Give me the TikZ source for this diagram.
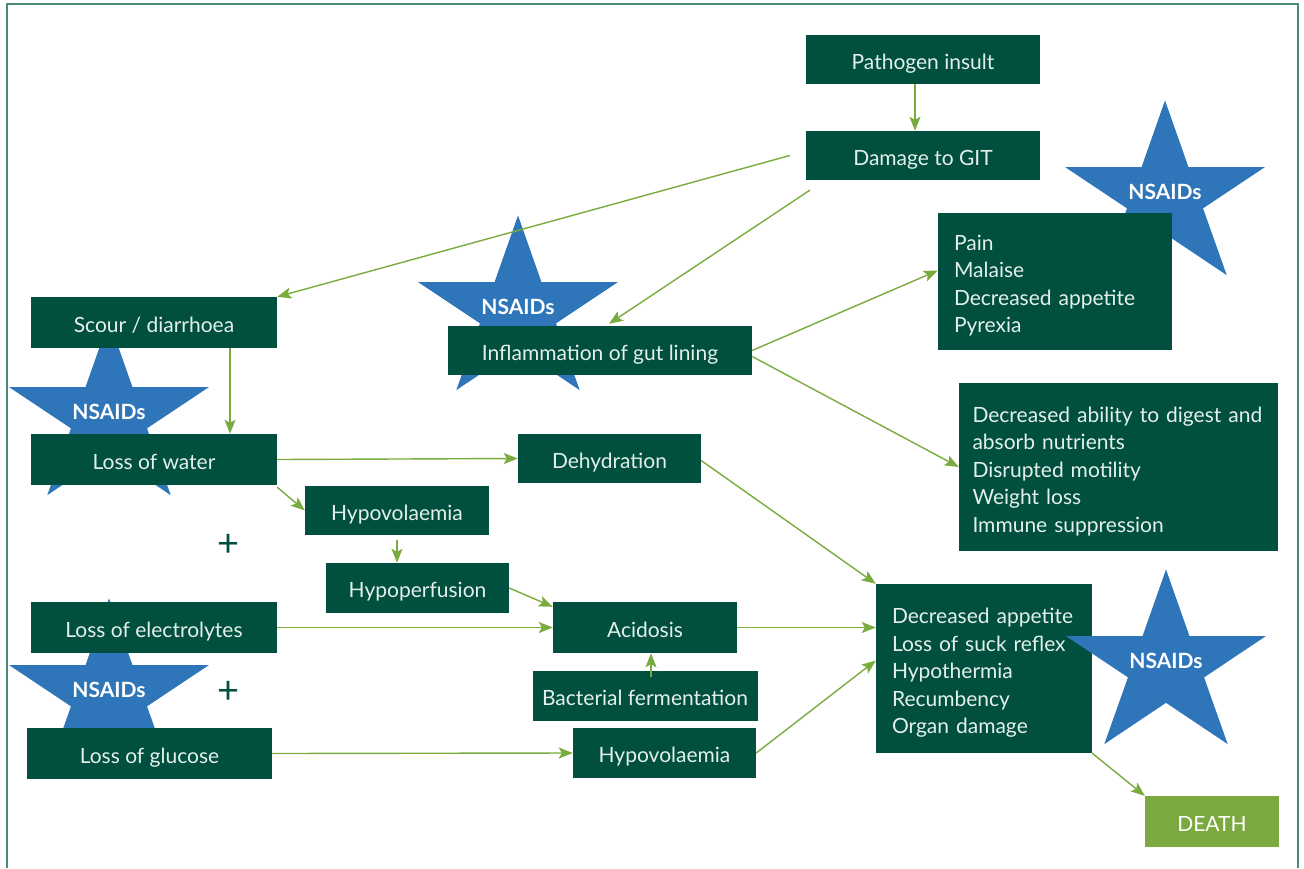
\documentclass[tikz,border=0pt]{standalone}
\usepackage{fontspec}
\setmainfont{Lato}
\usetikzlibrary{arrows.meta}
\definecolor{boxgreen}{HTML}{004F3F}
\definecolor{arrowgreen}{HTML}{7AAB3E}
\definecolor{deathgreen}{HTML}{7BA83F}
\definecolor{starblue}{HTML}{2E75B9}
\definecolor{framegreen}{HTML}{4A8A7A}
\definecolor{boxtext}{HTML}{E4F0EA}
\tikzset{
	boxbase/.style={fill=boxgreen, text=boxtext, inner sep=0pt, minimum height=50pt,
			font=\fontsize{21}{27.5}\selectfont},
	box/.style={boxbase, text height=21pt, text depth=2pt},
	listbox/.style={boxbase, align=left, inner xsep=16pt, text width=#1,
			execute at begin node=\rule{0pt}{24pt}},
	flow/.style={draw=arrowgreen, line width=1.4pt, -{Stealth[length=14pt,width=11pt,inset=3pt]}},
	nsaidlabel/.style={text=white, inner sep=0pt, font=\fontsize{21}{22}\selectfont\bfseries},
	plus/.style={text=boxgreen, inner sep=0pt, font=\fontsize{38}{38}\selectfont}
}
% star with its label: x, y, name
\newcommand\nsaidstar[3]{
	\fill[starblue, shift={(#1,#2)}, yscale=0.92]
		(-90:105) -- (-54:40) -- (-18:105) -- (18:40) -- (54:105) -- (90:40)
		-- (126:105) -- (162:40) -- (198:105) -- (234:40) -- cycle;
	\node[nsaidlabel] (#3) at (#1,#2-5) {NSAIDs};
}

\begin{document}
\begin{tikzpicture}[x=1pt, y=-1pt]
		\useasboundingbox (0,0) rectangle (1304,868);

		% frame
		\draw[framegreen, line width=2pt] (7,868) -- (7,4) -- (1298,4) -- (1298,868);

		% stars behind the boxes
		\nsaidstar{1165}{197}{nsaidA}
		\nsaidstar{518}{312}{nsaidB}
		\nsaidstar{109}{417}{nsaidC}
		\nsaidstar{109}{695}{nsaidD}

		% boxes
		\node[box, minimum width=234pt, minimum height=49pt] (pathogen) at (923,59.5) {Pathogen insult};
		\node[box, minimum width=234pt, minimum height=49pt] (damage) at (923,155.5) {Damage to GIT};
		\node[box, minimum width=246pt, minimum height=51pt] (scour) at (154,322.5) {Scour / diarrhoea};
		\node[box, minimum width=246pt, minimum height=51pt] (water) at (154,459.5) {Loss of water};
		\node[box, minimum width=304pt, minimum height=49pt] (inflam) at (600,350.5) {Inflammation of gut lining};
		\node[listbox=202pt, minimum height=137pt] (signs) at (1055,281.5)
			{Pain\\Malaise\\Decreased appetite\\Pyrexia};
		\node[listbox=292pt, inner xsep=13.5pt, minimum height=168pt] (gutfx) at (1118.5,467)
			{Decreased ability to digest and\\absorb nutrients\\Disrupted motility\\Weight loss\\Immune suppression};
		\node[box, minimum width=183pt, minimum height=49pt] (dehyd) at (609.5,458.5) {Dehydration};
		\node[box, minimum width=184pt, minimum height=49pt] (hypovol) at (397,510.5) {Hypovolaemia};
		\node[box, minimum width=183pt] (hypoperf) at (417.5,588) {Hypoperfusion};
		\node[box, minimum width=246pt, minimum height=51pt] (electro) at (154,627.5) {Loss of electrolytes};
		\node[box, minimum width=184pt, minimum height=51pt] (acid) at (645,627.5) {Acidosis};
		\node[box, minimum width=225pt] (bact) at (645,696) {Bacterial fermentation};
		\node[box, minimum width=245pt, minimum height=51pt] (glucose) at (149.5,753.5) {Loss of glucose};
		\node[box, minimum width=183pt] (hypovolb) at (664.5,753) {Hypovolaemia};
		\node[listbox=184pt, minimum height=169pt] (effects) at (984,668.5)
			{Decreased appetite\\Loss of suck reflex\\Hypothermia\\Recumbency\\Organ damage};
		\node[box, fill=deathgreen, text=white, minimum width=134pt, minimum height=51pt] (death) at (1212,821.5) {DEATH};

		% star over the last list
		\nsaidstar{1166}{666}{nsaidE}

		% plus signs
		\node[plus] (plusA) at (229,545) {+};
		\node[plus] (plusB) at (229,692) {+};

		% arrows
		\draw[flow] ([xshift=-8pt]pathogen.south) -- ([xshift=-8pt]damage.north);
		\draw[flow] ([xshift=-16pt]damage.west) -- (scour.north east);
		\draw[flow] ([xshift=4pt,yshift=-10pt]damage.south west) -- ([xshift=9pt,yshift=2pt]inflam.north);
		\draw[flow] ([xshift=76pt]scour.south) -- ([xshift=76pt]water.north);
		\draw[flow] (water.east) -- (dehyd.west);
		\draw[flow] ([yshift=-2pt]water.south east) -- (hypovol.west);
		\draw[flow] ([yshift=-5pt]hypovol.south) -- (hypoperf.north -| hypovol.south);
		\draw[flow] (hypoperf.east) -- ([yshift=-5pt]acid.north west);
		\draw[flow] (electro.east) -- (acid.west);
		\draw[flow] ([xshift=6pt,yshift=-6pt]bact.north) -- ([xshift=6pt]acid.south);
		\draw[flow] (glucose.east) -- (hypovolb.west);
		\draw[flow] (acid.east) -- (acid.east -| effects.west);
		\draw[flow] (hypovolb.east) -- ([yshift=8pt]effects.west);
		\draw[flow] ([yshift=-2pt]dehyd.east) -- (effects.north west);
		\draw[flow] (inflam.east) -- ([yshift=11pt]signs.west);
		\draw[flow] ([yshift=-6pt]inflam.east) -- (gutfx.west);
		\draw[flow] (effects.south east) -- (death.north west);
	\end{tikzpicture}
\end{document}
